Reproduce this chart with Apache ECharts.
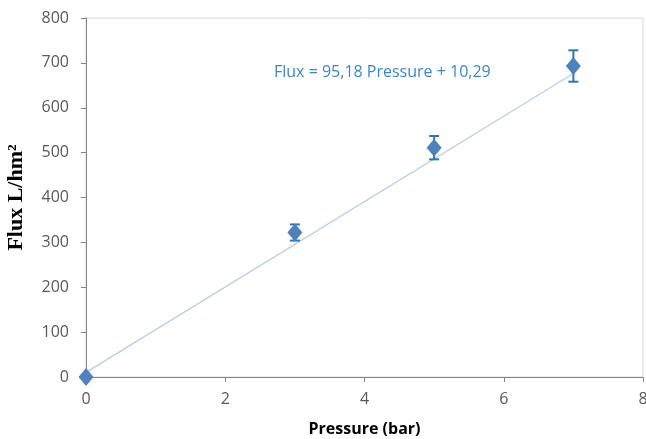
<!DOCTYPE html>
<html><head><meta charset="utf-8">
<script src="https://cdn.jsdelivr.net/npm/echarts@6/dist/echarts.min.js"></script>
<style>html,body{margin:0;padding:0;background:#fff}#c{width:646px;height:439px}</style>
</head><body><div id="c"></div>
<script>
const pressure = [0, 3, 5, 7];
const flux = [0, 322, 511, 693];
const fluxErr = [0, 18, 26, 35];
const trendX = [0, 7];
const trendY = [10.29, 676.55];
const equation = 'Flux = 95,18 Pressure + 10,29';
const xTicks = [0, 2, 4, 6, 8];
const yTicks = [0, 100, 200, 300, 400, 500, 600, 700, 800];

const font = '"Open Sans", sans-serif';
const chart = echarts.init(document.getElementById('c'));
chart.setOption({
  animation: false,
  grid: {left: 86, right: 3, top: 18, bottom: 62, show: true, borderColor: '#d9d9d9', borderWidth: 1,
         containLabel: false, outerBoundsMode: 'none'},
  xAxis: {
    type: 'value', min: 0, max: 8, interval: 2,
    name: 'Pressure (bar)', nameLocation: 'middle', nameGap: 44, nameMoveOverlap: false,
    nameTextStyle: {fontFamily: font, fontWeight: 'bold', fontSize: 16, color: '#000'},
    axisLine: {lineStyle: {color: '#868686'}},
    axisTick: {show: true, length: 5, lineStyle: {color: '#868686'}},
    splitLine: {show: false},
    axisLabel: {fontFamily: font, fontSize: 16, color: '#595959', margin: 14}
  },
  yAxis: {
    type: 'value', min: 0, max: 800, interval: 100,
    name: 'Flux L/hm²', nameLocation: 'middle', nameGap: 59, nameMoveOverlap: false,
    nameTextStyle: {fontFamily: '"Liberation Serif", serif', fontWeight: 'bold', fontSize: 22, color: '#000'},
    axisLine: {show: true, lineStyle: {color: '#868686'}},
    axisTick: {show: true, length: 5, lineStyle: {color: '#868686'}},
    splitLine: {show: false},
    axisLabel: {fontFamily: font, fontSize: 16, color: '#595959', margin: 17}
  },
  series: [
    {
      type: 'line', data: trendX.map((x, i) => [x, trendY[i]]), symbol: 'none',
      lineStyle: {color: '#b9cde5', width: 1.2}, z: 1, silent: true
    },
    {
      type: 'custom', z: 3,
      data: pressure.map((x, i) => [x, flux[i] - fluxErr[i], flux[i] + fluxErr[i]]).filter(d => d[2] > d[1]),
      renderItem: function (params, api) {
        const lo = api.coord([api.value(0), api.value(1)]);
        const hi = api.coord([api.value(0), api.value(2)]);
        const w = 5;
        const st = {stroke: '#2e75b6', lineWidth: 2};
        return {type: 'group', children: [
          {type: 'line', shape: {x1: lo[0], y1: lo[1], x2: hi[0], y2: hi[1]}, style: st},
          {type: 'line', shape: {x1: lo[0] - w, y1: lo[1], x2: lo[0] + w, y2: lo[1]}, style: st},
          {type: 'line', shape: {x1: hi[0] - w, y1: hi[1], x2: hi[0] + w, y2: hi[1]}, style: st}
        ]};
      }
    },
    {
      type: 'scatter', data: pressure.map((x, i) => [x, flux[i]]), symbol: 'diamond', symbolSize: [15, 18],
      itemStyle: {color: '#4f81bd', opacity: 1}, z: 4
    }
  ],
  graphic: [{
    type: 'text', left: 274, top: 64,
    style: {text: equation, fontFamily: font, fontSize: 16, fill: '#3b87c8'}
  }]
});
</script></body></html>
